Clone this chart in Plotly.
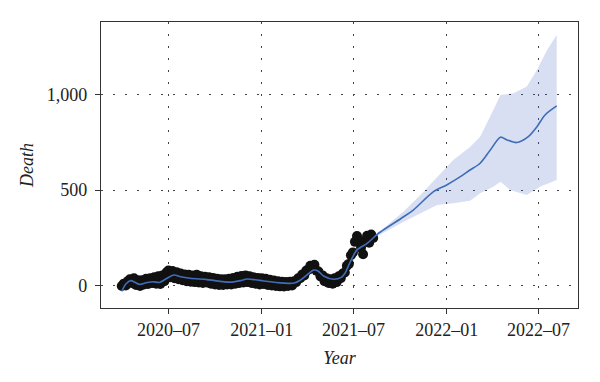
import pandas as pd
import plotly.graph_objects as go

# ---- observed daily deaths (sampled every 4 days) ----
obs_start = "2020-03-31"
obs_values = [
    0, 12, 2, 25, 35, 15, 40, 5, 30, 0,
    30, 8, 38, 10, 40, 15, 45, 12, 50, 10,
    55, 25, 70, 80, 45, 78, 40, 72, 35, 65,
    30, 60, 25, 58, 22, 55, 20, 58, 18, 50,
    15, 48, 18, 45, 12, 42, 8, 38, 5, 35,
    5, 35, 8, 38, 8, 42, 12, 48, 15, 52,
    18, 55, 20, 50, 15, 45, 12, 42, 8, 40,
    10, 38, 5, 32, 2, 28, 0, 25, -2, 22,
    -3, 20, 0, 22, 2, 25, 20, 40, 40, 60,
    55, 80, 85, 105, 100, 110, 80, 75, 50, 55,
    25, 40, 15, 35, 12, 40, 20, 50, 40, 65,
    70, 105, 115, 160, 175, 230, 260, 240, 200, 165,
    235, 262, 225, 268, 250,
]
obs_dates = pd.date_range(obs_start, periods=len(obs_values), freq="4D")

# ---- fitted / forecast trend (yhat) ----
yhat_dates = [
    "2020-03-31", "2020-04-08", "2020-04-18", "2020-05-05", "2020-05-20", "2020-06-01",
    "2020-06-13", "2020-06-25", "2020-07-12", "2020-07-25", "2020-08-13", "2020-09-15",
    "2020-10-31", "2020-11-20", "2020-12-03", "2020-12-20", "2021-01-05", "2021-02-13",
    "2021-03-06", "2021-03-18", "2021-03-31", "2021-04-14", "2021-04-22", "2021-05-03",
    "2021-05-23", "2021-06-07", "2021-06-14", "2021-06-25", "2021-07-08", "2021-07-28",
    "2021-08-09", "2021-08-16", "2021-10-08", "2021-10-27", "2021-12-06", "2022-01-01",
    "2022-01-28", "2022-02-16", "2022-03-08", "2022-03-28", "2022-04-17", "2022-04-30",
    "2022-05-19", "2022-06-11", "2022-06-28", "2022-07-14", "2022-08-06",
]
yhat_values = [
    -28, 10, 28, 8, 18, 22,
    18, 35, 57, 48, 40, 33,
    20, 28, 36, 32, 26, 15,
    15, 30, 57, 83, 78, 52,
    35, 45, 65, 127, 188, 222,
    250, 268, 361, 396, 492, 527,
    570, 605, 640, 709, 776, 762,
    748, 779, 831, 892, 939,
]

# ---- uncertainty interval ----
upper_dates = [
    "2021-08-09", "2021-10-08", "2021-11-10", "2021-12-13", "2022-01-14", "2022-02-16",
    "2022-03-08", "2022-04-03", "2022-04-17", "2022-05-13", "2022-06-08", "2022-06-28",
    "2022-07-18", "2022-08-06",
]
upper_values = [255, 388, 475, 570, 657, 725, 779, 918, 996, 1005, 1040, 1127, 1231, 1309]

lower_dates = [
    "2021-08-09", "2021-10-08", "2021-11-23", "2021-12-13", "2022-01-14", "2022-02-16",
    "2022-03-08", "2022-04-03", "2022-04-17", "2022-05-06", "2022-06-08", "2022-07-04",
    "2022-08-06",
]
lower_values = [248, 335, 396, 422, 431, 445, 484, 518, 544, 501, 475, 518, 553]

FONT = "Liberation Serif"
LINE_BLUE = "#3f6db8"
TEXT = "#222222"

fig = go.Figure()

band_x = list(pd.to_datetime(upper_dates)) + list(pd.to_datetime(lower_dates))[::-1]
band_y = upper_values + lower_values[::-1]
fig.add_trace(go.Scatter(
    x=band_x, y=band_y, mode="lines", fill="toself",
    fillcolor="rgba(58,95,191,0.2)", line=dict(width=0),
    hoverinfo="skip", showlegend=False,
))

fig.add_trace(go.Scatter(
    x=obs_dates, y=obs_values, mode="markers",
    marker=dict(size=10, color="#111111", line=dict(width=0)),
    showlegend=False,
))

fig.add_trace(go.Scatter(
    x=pd.to_datetime(yhat_dates), y=yhat_values, mode="lines",
    line=dict(color=LINE_BLUE, width=1.6, shape="spline", smoothing=0.8),
    showlegend=False,
))

axis_common = dict(
    showline=True, mirror=True, linecolor="#333333", linewidth=1.3,
    ticks="outside", ticklen=5, tickwidth=1.2, tickcolor="#333333",
    showgrid=True, gridcolor="#444444", gridwidth=1.4, griddash="2px,10px",
    zeroline=False, automargin=False,
    tickfont=dict(family=FONT, size=18, color=TEXT),
)

fig.update_xaxes(
    **axis_common,
    type="date",
    range=["2020-02-19", "2022-09-17"],
    tick0="2020-07-01", dtick="M6", tickformat="%Y–%m",
    title=dict(text="<i>Year</i>", font=dict(family=FONT, size=18, color=TEXT), standoff=12),
)
fig.update_yaxes(
    **axis_common,
    range=[-115, 1377],
    tickvals=[0, 500, 1000], tickformat=",",
    ticklabelstandoff=4,
    title=dict(text="<i>Death</i>", font=dict(family=FONT, size=18, color=TEXT), standoff=8),
)

# the page body adds an 8px offset, so the figure is sized to 592x374
fig.update_layout(
    width=592, height=374,
    margin=dict(l=93, r=22, t=14, b=74),
    paper_bgcolor="white", plot_bgcolor="white",
    font=dict(family=FONT, size=18, color=TEXT),
)

fig.write_html("out.html")
